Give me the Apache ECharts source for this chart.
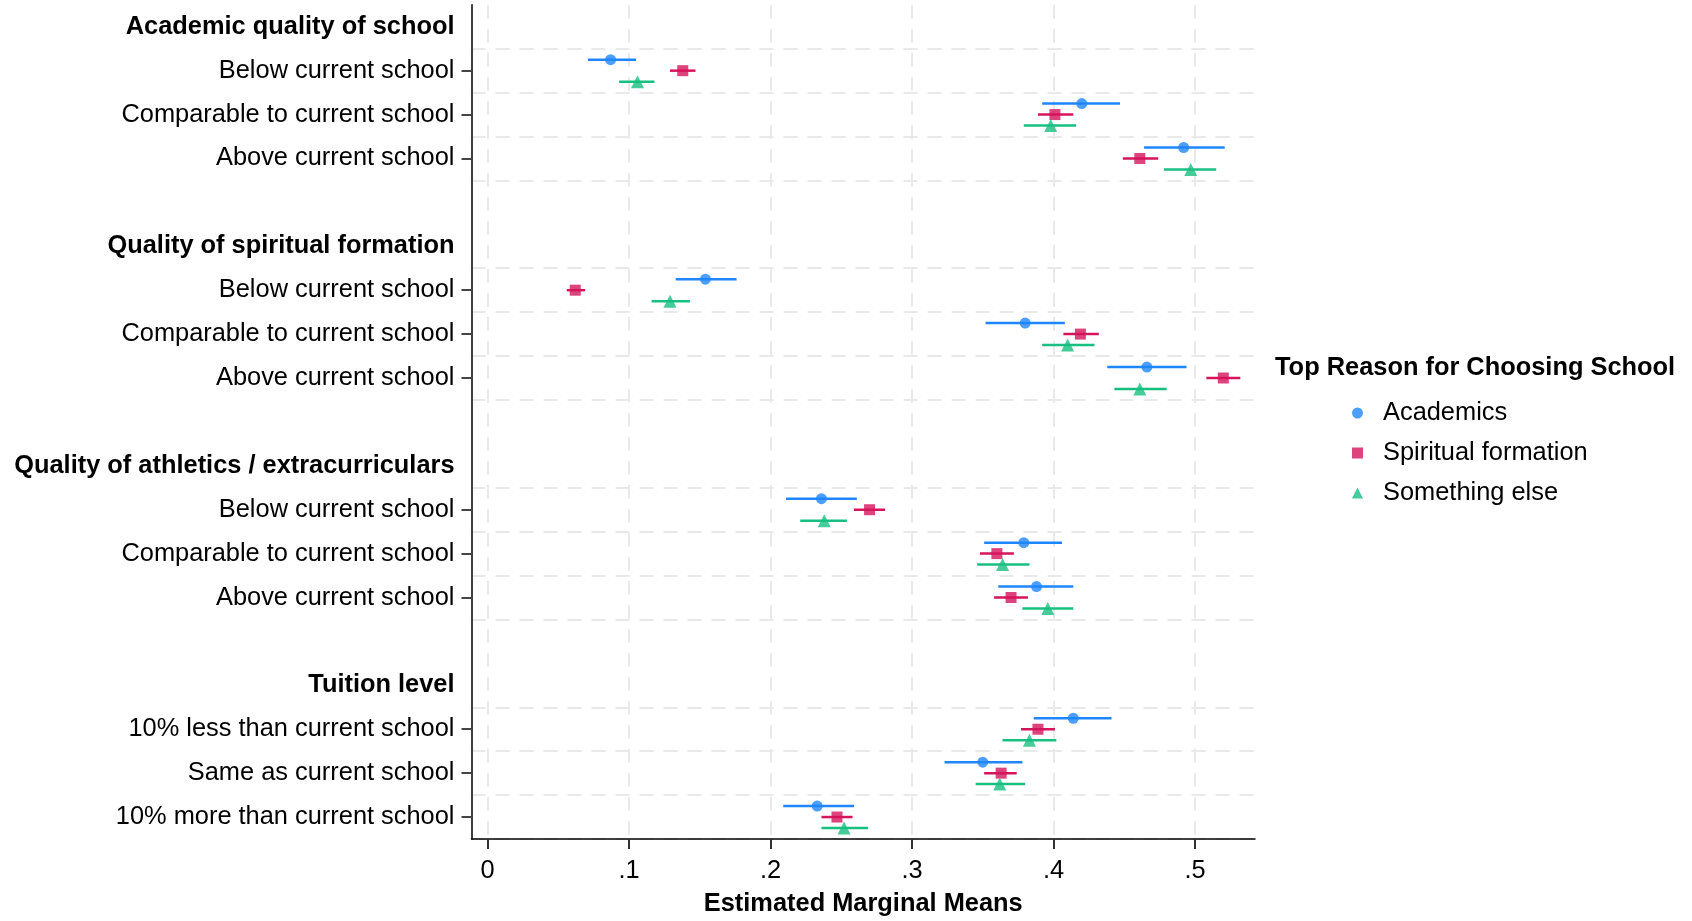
<!DOCTYPE html>
<html>
<head>
    <meta charset="utf-8"/>
    <title>Estimated Marginal Means</title>
    <script src="https://cdn.jsdelivr.net/npm/echarts@6/dist/echarts.min.js"></script>
    <style>
        html, body { margin: 0; padding: 0; background: #fff; }
        #chart { width: 1692px; height: 921px; }
    </style>
</head>
<body>
<div id="chart"></div>
<script>
    // rows of the y axis, top to bottom ('' = spacer row)
    var rowLabels = [
        'Academic quality of school', 'Below current school', 'Comparable to current school', 'Above current school', '',
        'Quality of spiritual formation', 'Below current school', 'Comparable to current school', 'Above current school', '',
        'Quality of athletics / extracurriculars', 'Below current school', 'Comparable to current school', 'Above current school', '',
        'Tuition level', '10% less than current school', 'Same as current school', '10% more than current school'
    ];
    var headerRows = [0, 5, 10, 15];
    var dataRows = [1, 2, 3, 6, 7, 8, 11, 12, 13, 16, 17, 18];

    var seriesNames = ['Academics', 'Spiritual formation', 'Something else'];

    var academicsMean = [0.087, 0.420, 0.492, 0.154, 0.380, 0.466, 0.236, 0.379, 0.388, 0.414, 0.350, 0.233];
    var academicsLo   = [0.071, 0.392, 0.464, 0.133, 0.352, 0.438, 0.211, 0.351, 0.361, 0.386, 0.323, 0.209];
    var academicsHi   = [0.105, 0.447, 0.521, 0.176, 0.408, 0.494, 0.261, 0.406, 0.414, 0.441, 0.378, 0.259];

    var spiritualMean = [0.138, 0.401, 0.461, 0.062, 0.419, 0.520, 0.270, 0.360, 0.370, 0.389, 0.363, 0.247];
    var spiritualLo   = [0.129, 0.389, 0.449, 0.056, 0.407, 0.508, 0.259, 0.348, 0.358, 0.377, 0.351, 0.236];
    var spiritualHi   = [0.147, 0.414, 0.474, 0.069, 0.432, 0.532, 0.281, 0.372, 0.382, 0.401, 0.374, 0.258];

    var elseMean = [0.106, 0.398, 0.497, 0.129, 0.410, 0.461, 0.238, 0.364, 0.396, 0.383, 0.362, 0.252];
    var elseLo   = [0.093, 0.379, 0.478, 0.116, 0.392, 0.443, 0.221, 0.346, 0.378, 0.364, 0.345, 0.236];
    var elseHi   = [0.118, 0.416, 0.515, 0.143, 0.429, 0.480, 0.254, 0.383, 0.414, 0.402, 0.380, 0.269];

    var xTicks = [0, 0.1, 0.2, 0.3, 0.4, 0.5];

    var font = 'Liberation Sans, Arial, sans-serif';
    var fs = 25.4;
    var colors = ['#1f86ff', '#d5145c', '#17bf80'];
    var symbols = ['circle', 'rect', 'triangle'];
    var symbolSizes = [11, 11, 13];
    var offsets = [-0.25, 0, 0.25];

    var groups = [
        [academicsMean, academicsLo, academicsHi],
        [spiritualMean, spiritualLo, spiritualHi],
        [elseMean, elseLo, elseHi]
    ];

    var series = [];
    groups.forEach(function (g, k) {
        var bars = [], pts = [];
        for (var i = 0; i < dataRows.length; i++) {
            var y = dataRows[i] + offsets[k];
            bars.push([g[1][i], g[2][i], y]);
            pts.push([g[0][i], y]);
        }
        series.push({
            name: seriesNames[k] + ' CI',
            type: 'custom',
            xAxisIndex: 0,
            yAxisIndex: 1,
            z: 3,
            encode: {x: [0, 1], y: 2},
            renderItem: function (params, api) {
                var p1 = api.coord([api.value(0), api.value(2)]);
                var p2 = api.coord([api.value(1), api.value(2)]);
                return {
                    type: 'line',
                    shape: {x1: p1[0], y1: p1[1], x2: p2[0], y2: p2[1]},
                    style: {stroke: colors[k], lineWidth: 2.5}
                };
            },
            data: bars
        });
        series.push({
            name: seriesNames[k],
            type: 'scatter',
            xAxisIndex: 0,
            yAxisIndex: 1,
            z: 4,
            symbol: symbols[k],
            symbolSize: symbolSizes[k],
            itemStyle: {color: colors[k]},
            data: pts
        });
    });

    var gridLine = {show: true, lineStyle: {color: '#e9e9e9', width: 2, type: [14, 10]}};

    var myChart = echarts.init(document.getElementById('chart'));
    var option = {
        animation: false,
        backgroundColor: '#fff',
        textStyle: {fontFamily: font},
        title: {
            text: 'Top Reason for Choosing School',
            left: 1275,
            top: 355,
            padding: 0,
            textStyle: {fontFamily: font, fontSize: fs, fontWeight: 'bold', color: '#000'}
        },
        legend: {
            data: seriesNames,
            orient: 'vertical',
            left: 1352,
            top: 398,
            padding: 0,
            itemWidth: 11,
            itemHeight: 11,
            itemGap: 10,
            textStyle: {fontFamily: font, fontSize: fs, color: '#000', lineHeight: 30, padding: [0, 0, 0, 15]}
        },
        grid: {left: 471.5, right: 437, top: 4.8, bottom: 78, containLabel: false},
        xAxis: {
            type: 'value',
            min: -0.0113,
            max: 0.5424,
            name: 'Estimated Marginal Means',
            nameLocation: 'middle',
            nameGap: 52,
            nameTextStyle: {fontFamily: font, fontSize: fs, fontWeight: 'bold', color: '#000'},
            axisLine: {show: true, onZero: false, lineStyle: {color: '#000', width: 1.5}},
            axisTick: {show: true, length: 10, customValues: xTicks, lineStyle: {color: '#333', width: 2}},
            axisLabel: {
                customValues: xTicks,
                margin: 19,
                fontFamily: font,
                fontSize: fs,
                color: '#000',
                formatter: function (v) {
                    return v === 0 ? '0' : String(+v.toFixed(1)).replace('0.', '.');
                }
            },
            splitLine: gridLine
        },
        yAxis: [{
            type: 'category',
            inverse: true,
            data: rowLabels,
            axisLine: {show: true, onZero: false, lineStyle: {color: '#000', width: 1.5}},
            axisTick: {
                show: true,
                alignWithLabel: true,
                length: 10,
                interval: function (index) {
                    return dataRows.indexOf(index) >= 0;
                },
                lineStyle: {color: '#444', width: 2}
            },
            axisLabel: {
                interval: 0,
                margin: 17,
                fontFamily: font,
                fontSize: fs,
                color: '#000',
                formatter: function (value, index) {
                    return headerRows.indexOf(index) >= 0 ? '{h|' + value + '}' : value;
                },
                rich: {
                    h: {fontFamily: font, fontSize: fs, fontWeight: 'bold', color: '#000'}
                }
            },
            splitLine: {
                show: true,
                interval: function (index) {
                    return headerRows.indexOf(index) < 0;
                },
                lineStyle: gridLine.lineStyle
            }
        }, {
            type: 'value',
            inverse: true,
            min: -0.5,
            max: 18.5,
            show: false,
            axisLine: {onZero: false},
            splitLine: {show: false}
        }],
        series: series
    };
    myChart.setOption(option);
</script>
</body>
</html>
